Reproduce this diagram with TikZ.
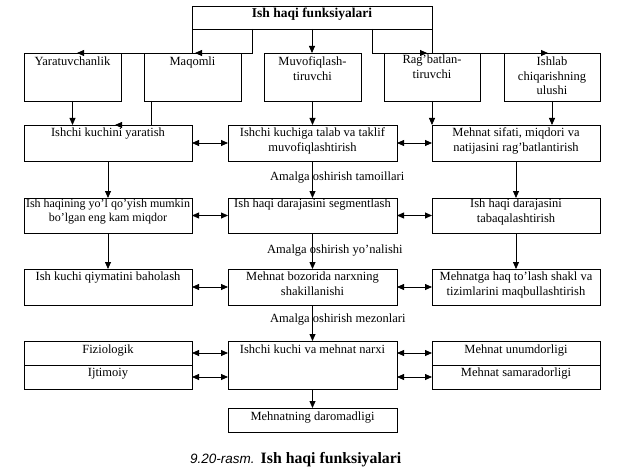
\documentclass[tikz,border=0pt]{standalone}
\usepackage{fontspec}
\setmainfont{Liberation Serif}
\setsansfont{Liberation Sans}
\usetikzlibrary{arrows.meta,calc}
\newcommand{\bx}[4]{\parbox[t][#2pt][t]{#1pt}{\centering\rule{0pt}{#3pt}#4}}
\tikzset{
  box/.style={draw, line width=0.8pt, inner sep=0pt, outer sep=0pt, anchor=north west,
              font=\fontsize{12.5}{14.5}\selectfont},
  arr/.style={line width=0.8pt, -{Triangle[length=7pt,width=6pt]}},
  darr/.style={line width=0.8pt, {Triangle[length=7pt,width=6pt]}-{Triangle[length=7pt,width=6pt]}},
  lab/.style={inner sep=0pt, anchor=base west, font=\fontsize{12.5}{14.5}\selectfont}
}
\begin{document}
\begin{tikzpicture}[x=1pt,y=-1pt]
\useasboundingbox[fill=white] (0,0) rectangle (644,473);
% top
\node[box] (T) at (192,6) {\bx{240}{23}{11.5}{\fontsize{13.5}{15}\selectfont\bfseries Ish haqi funksiyalari}};
% row 1
\node[box] (A1) at (24,53)  {\bx{97}{48}{13}{Yaratuvchanlik}};
\node[box] (A2) at (144,53) {\bx{97}{48}{13}{Maqomli}};
\node[box] (A3) at (264,53) {\bx{97}{48}{13}{Muvofiqlash-\\tiruvchi}};
\node[box] (A4) at (384,53) {\bx{96}{48}{11}{Rag’batlan-\\tiruvchi}};
\node[box] (A5) at (504,53) {\bx{96}{48}{13}{Ishlab\\chiqarishning\\ulushi}};
% row 2
\node[box] (B1) at (24,125)  {\bx{168}{36}{11.5}{Ishchi kuchini yaratish}};
\node[box] (B2) at (228,125) {\bx{169}{36}{11.5}{Ishchi kuchiga talab va taklif\\muvofiqlashtirish}};
\node[box] (B3) at (432,125) {\bx{168}{36}{11.5}{Mehnat sifati, miqdori va\\natijasini rag’batlantirish}};
% row 3
\node[box] (C1) at (24,198)  {\bx{168}{35}{9}{\fontsize{12}{14.5}\selectfont Ish haqining yo’l qo’yish mumkin\\bo’lgan eng kam miqdor}};
\node[box] (C2) at (228,198) {\bx{169}{35}{9}{Ish haqi darajasini segmentlash}};
\node[box] (C3) at (432,198) {\bx{168}{35}{9.5}{Ish haqi darajasini\\tabaqalashtirish}};
% row 4
\node[box] (D1) at (24,269)  {\bx{168}{36}{11.5}{Ish kuchi qiymatini baholash}};
\node[box] (D2) at (228,269) {\bx{169}{36}{11.5}{Mehnat bozorida narxning\\shakillanishi}};
\node[box] (D3) at (432,269) {\bx{168}{36}{11.5}{Mehnatga haq to’lash shakl va\\tizimlarini maqbullashtirish}};
% row 5
\node[box] (E1a) at (24,341)  {\bx{168}{24}{12}{Fiziologik}};
\node[box] (E1b) at (24,365)  {\bx{168}{24}{11}{Ijtimoiy}};
\node[box] (E2)  at (228,341) {\bx{169}{48}{12}{Ishchi kuchi va mehnat narxi}};
\node[box] (E3a) at (432,341) {\bx{168}{24}{12}{Mehnat unumdorligi}};
\node[box] (E3b) at (432,365) {\bx{168}{24}{11}{Mehnat samaradorligi}};
% row 6
\node[box] (F) at (228,408) {\bx{169}{24}{12}{Mehnatning daromadligi}};
% labels
\node[lab] (L1) at (270,180) {Amalga oshirish tamoillari};
\node[lab] (L2) at (267,253) {Amalga oshirish yo’nalishi};
\node[lab] (L3) at (270,322) {Amalga oshirish mezonlari};
% caption
\node[inner sep=0pt, anchor=base west] (cap) at (190,463)
  {{\fontsize{13.5}{16}\selectfont\sffamily\itshape 9.20-rasm.}\hspace{6pt}{\fontsize{15.8}{18}\selectfont\bfseries Ish haqi funksiyalari}};
% top connectors
\draw[arr] (T.south west) |- ($(A1.north)+(4.5,0)$);
\draw[arr] ($(T.south west)+(60,0)$) |- ($(A2.north)+(2.5,0)$);
\draw[arr] (T.south) -- (T.south |- A3.north);
\draw[arr] ($(T.south east)+(-60,0)$) |- ($(A4.north)+(-5,0)$);
\draw[arr] (T.south east) |- ($(A5.north)+(-4,0)$);
% row1 -> row2
\draw[arr] (A1.south) -- (A1.south |- B1.north);
\draw[arr] ($(A2.south west)+(7,0)$) |- ($(B1.north)+(7,0)$);
\draw[arr] (A3.south) -- (A3.south |- B2.north);
\draw[arr] (A4.south) -- (A4.south |- B3.north);
\draw[arr] (A5.south) -- (A5.south |- B3.north);
% vertical chains
\draw[arr] (B1.south) -- (C1.north);
\draw[arr] (B2.south) -- (C2.north);
\draw[arr] (B3.south) -- (C3.north);
\draw[arr] (C1.south) -- (D1.north);
\draw[arr] (C2.south) -- (D2.north);
\draw[arr] (C3.south) -- (D3.north);
\draw[arr] (D2.south) -- (E2.north);
\draw[arr] (E2.south) -- (F.north);
% horizontal double arrows
\draw[darr] (B1.east) -- (B2.west);
\draw[darr] (B2.east) -- (B3.west);
\draw[darr] (C1.east) -- (C2.west);
\draw[darr] (C2.east) -- (C3.west);
\draw[darr] (D1.east) -- (D2.west);
\draw[darr] (D2.east) -- (D3.west);
\draw[darr] (E1a.east) -- (E1a.east -| E2.west);
\draw[darr] (E1b.east) -- (E1b.east -| E2.west);
\draw[darr] (E3a.west -| E2.east) -- (E3a.west);
\draw[darr] (E3b.west -| E2.east) -- (E3b.west);
\end{tikzpicture}
\end{document}
